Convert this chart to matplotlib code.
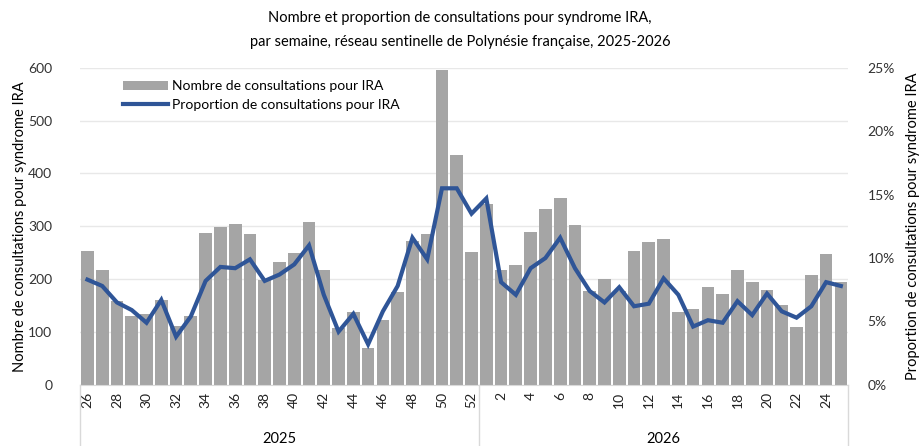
import numpy as np
import matplotlib
matplotlib.use("Agg")
import matplotlib.pyplot as plt
from matplotlib.ticker import FuncFormatter

plt.rcParams['font.family'] = ['Lato', 'DejaVu Sans']

# semaines : 26-52 de 2025 puis 1-25 de 2026
semaines_2025 = list(range(26, 53))
semaines_2026 = list(range(1, 26))
annees = ["2025", "2026"]

nb_consult = [254, 217, 158, 130, 135, 161, 112, 130, 288, 299, 305, 285, 199, 232,
              249, 308, 217, 108, 138, 70, 123, 175, 273, 285, 596, 435, 251,
              342, 217, 226, 290, 333, 353, 302, 178, 201, 178, 254, 271, 277,
              138, 144, 186, 172, 217, 194, 180, 152, 109, 208, 248, 194]

prop_consult = [8.3, 7.8, 6.5, 5.9, 4.9, 6.7, 3.8, 5.4, 8.2, 9.3, 9.2, 9.9, 8.2, 8.7,
                9.5, 11.0, 7.1, 4.2, 5.6, 3.2, 5.8, 7.8, 11.6, 9.9, 15.5, 15.5, 13.5,
                14.7, 8.1, 7.1, 9.2, 10.0, 11.6, 9.2, 7.4, 6.5, 7.7, 6.2, 6.4, 8.4,
                7.1, 4.6, 5.1, 4.9, 6.6, 5.5, 7.2, 5.8, 5.3, 6.2, 8.1, 7.8]

semaines = semaines_2025 + semaines_2026
x = np.arange(len(semaines))

fig = plt.figure(figsize=(9.2, 4.46), dpi=100)
ax = fig.add_axes([0.087, 0.137, 0.835, 0.711])
ax2 = ax.twinx()

bars = ax.bar(x, nb_consult, width=0.86, color="#A5A5A5", zorder=2,
              label="Nombre de consultations pour IRA")
line, = ax2.plot(x, prop_consult, color="#2F5597", linewidth=3,
                 solid_joinstyle="miter", label="Proportion de consultations pour IRA")

ax.set_xlim(-0.5, len(semaines) - 0.5)
ax.set_ylim(0, 600)
ax.set_yticks(range(0, 601, 100))
ax2.set_ylim(0, 25)
ax2.set_yticks(range(0, 26, 5))
ax2.yaxis.set_major_formatter(FuncFormatter(lambda v, p: f"{v:.0f}%"))

ax.grid(axis="y", color="#E8E8E8", linewidth=1, zorder=0)
ax.set_axisbelow(True)

for a in (ax, ax2):
    for s in ("top", "left", "right"):
        a.spines[s].set_visible(False)
    a.spines["bottom"].set_color("#D9D9D9")
    a.tick_params(axis="y", length=0, labelsize=10, colors="#333333")
ax.tick_params(axis="y", pad=20)
ax2.tick_params(axis="y", pad=14)
ax2.spines["bottom"].set_visible(False)

ax.set_xticks(x)
ax.set_xticklabels([str(s) if i % 2 == 0 else "" for i, s in enumerate(semaines)],
                   rotation=90, fontsize=10)
ax.tick_params(axis="x", length=0, pad=5, colors="#222222")

# séparateurs et années sous l'axe
trans = ax.get_xaxis_transform()
n25 = len(semaines_2025)
for xs in (-0.5, n25 - 0.5, len(semaines) - 0.5):
    ax.plot([xs, xs], [0, -0.2], transform=trans, color="#D9D9D9",
            linewidth=1, clip_on=False)
ax.text((n25 - 1) / 2, -0.17, annees[0], transform=trans, ha="center",
        va="center", fontsize=10.5)
ax.text(n25 + (len(semaines_2026) - 1) / 2, -0.17, annees[1], transform=trans,
        ha="center", va="center", fontsize=10.5)

ax.set_ylabel("Nombre de consultations pour syndrome IRA", fontsize=10.5, labelpad=1)
ax2.set_ylabel("Proportion de consultations pour syndrome IRA", fontsize=10.5,
               rotation=90, labelpad=8)

fig.suptitle("Nombre et proportion de consultations pour syndrome IRA,\n"
             "par semaine, réseau sentinelle de Polynésie française, 2025-2026",
             fontsize=10.5, y=0.975, linespacing=1.85)

leg = ax.legend([bars, line], [bars.get_label(), line.get_label()],
                loc="upper left", bbox_to_anchor=(0.04, 1.0), frameon=False,
                fontsize=10, handlelength=3.2, handletextpad=0.3,
                labelspacing=0.45)

fig.savefig("out.png", dpi=100)
